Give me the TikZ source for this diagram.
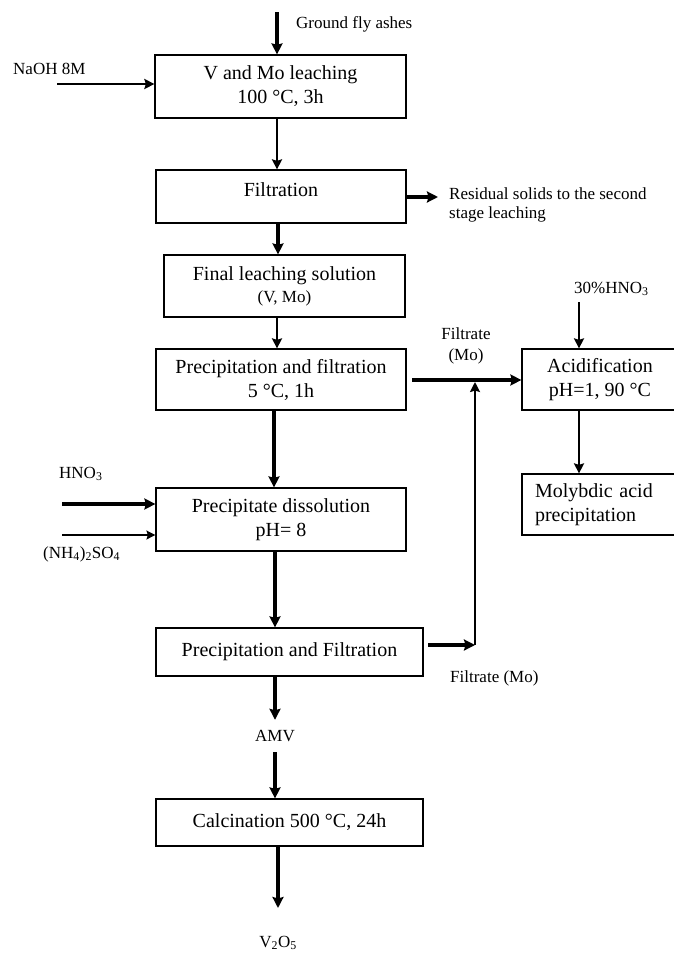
\documentclass[tikz,border=0pt]{standalone}
\usepackage{fontspec}
\setmainfont{Liberation Serif}
\usetikzlibrary{arrows.meta}
\begin{document}
\begin{tikzpicture}[x=1pt,y=-1pt,
  box/.style={draw,line width=1.2pt,inner sep=0pt,align=center,font=\fontsize{20}{24}\selectfont},
  lbl/.style={inner sep=0pt,font=\fontsize{17}{21}\selectfont},
  thk/.style={line width=3.2pt,-{Stealth[length=11pt,width=11pt,inset=1.5pt]}},
  med/.style={line width=2.2pt,-{Stealth[length=10pt,width=10pt,inset=1.5pt]}},
  thn/.style={line width=1.3pt,-{Stealth[length=9pt,width=9pt,inset=1.5pt]}},
]
\fill[white] (0,0) rectangle (674,953);
\useasboundingbox (0,0) rectangle (674,953);

% process boxes
\node[box,minimum width=251pt,minimum height=63pt] (b1) at (280.5,86.5) {V and Mo leaching\\100 °C, 3h};
\node[box,minimum width=250pt,minimum height=53pt,text height=14pt,text depth=14pt] (b2) at (281,196.5) {Filtration};
\node[box,minimum width=241pt,minimum height=62pt] (b3) at (284.5,286) {Final leaching solution\\[-2pt]{\fontsize{17}{21}\selectfont (V, Mo)}};
\node[box,minimum width=250pt,minimum height=61pt] (b4) at (281,379.5) {Precipitation and filtration\\5 °C, 1h};
\node[box,minimum width=156pt,minimum height=61pt] (acid) at (600,379.5) {Acidification\\pH=1, 90 °C};
\node[box,minimum height=61pt,text width=130pt,inner xsep=13pt,align=left] (moly) at (600,504.5) {Molybdic acid\\precipitation};
\node[box,minimum width=250pt,minimum height=63pt] (b5) at (281,519.5) {Precipitate dissolution\\pH= 8};
\node[box,minimum width=267pt,minimum height=48pt] (b6) at (289.5,652) {Precipitation and Filtration};
\node[box,minimum width=267pt,minimum height=47pt] (calc) at (289.5,822.5) {Calcination 500 °C, 24h};

% labels
\node[lbl,anchor=base west] (gfa) at (296,28) {Ground fly ashes};
\node[lbl,anchor=base west] (naohl) at (13,74) {NaOH 8M};
\node[lbl,anchor=north west,align=left] (resl) at (449,188) {Residual solids to the second\\[-2pt]stage leaching};
\node[lbl,anchor=base west] (hno3a) at (574,293) {30\%HNO\textsubscript{3}};
\node[lbl,anchor=north,align=center] (filt1) at (466,327.5) {Filtrate\\(Mo)};
\node[lbl,anchor=base west] (hno3b) at (59,478) {HNO\textsubscript{3}};
\node[lbl,anchor=base west] (nh4) at (43,558) {(NH\textsubscript{4})\textsubscript{2}SO\textsubscript{4}};
\node[lbl,anchor=base west] (filt2) at (450,682) {Filtrate (Mo)};
\node[lbl,minimum height=32pt] (amv) at (275,736) {AMV};
\node[lbl,anchor=base] (v2o5) at (278,947) {V\textsubscript{2}O\textsubscript{5}};

% helper coordinates
\coordinate (xa) at (277,0);
\coordinate (xb) at (278,0);
\coordinate (xc) at (274,0);
\coordinate (xd) at (275,0);
\coordinate (xe) at (579,0);
\coordinate (gtop) at (277,12);
\coordinate (naohs) at (57,84);
\coordinate (resend) at (438,197);
\coordinate (hno3top) at (579,302);
\coordinate (b4out) at (412,380);
\coordinate (b6out) at (428,645);
\coordinate (junc) at (475,645);
\coordinate (hs) at (62,504);
\coordinate (ns) at (62,535);
\coordinate (vend) at (278,908);

% connectors
\draw[thk] (gtop) -- (gtop |- b1.north);
\draw[med] (naohs) -- (naohs -| b1.west);
\draw[med] (b1.south -| xa) -- (b2.north -| xa);
\draw[thk] (b2.east |- resend) -- (resend);
\draw[thk] (b2.south -| xb) -- (b3.north -| xb);
\draw[med] (b3.south -| xa) -- (b4.north -| xa);
\draw[med] (hno3top) -- (hno3top |- acid.north);
\draw[thk] (b4out) -- (b4out -| acid.west);
\draw[med] (acid.south -| xe) -- (moly.north -| xe);
\draw[thk] (b4.south -| xc) -- (b5.north -| xc);
\draw[thk] (hs) -- (hs -| b5.west);
\draw[thn] (ns) -- (ns -| b5.west);
\draw[thk] (b5.south -| xd) -- (b6.north -| xd);
\draw[thk] (b6out) -- (junc);
\draw[med] (junc) -- ([yshift=-2pt]junc |- b4out);
\draw[thk] (b6.south -| xd) -- (amv.north -| xd);
\draw[thk] (amv.south -| xd) -- (calc.north -| xd);
\draw[thk] (calc.south -| vend) -- (vend);
\end{tikzpicture}
\end{document}
